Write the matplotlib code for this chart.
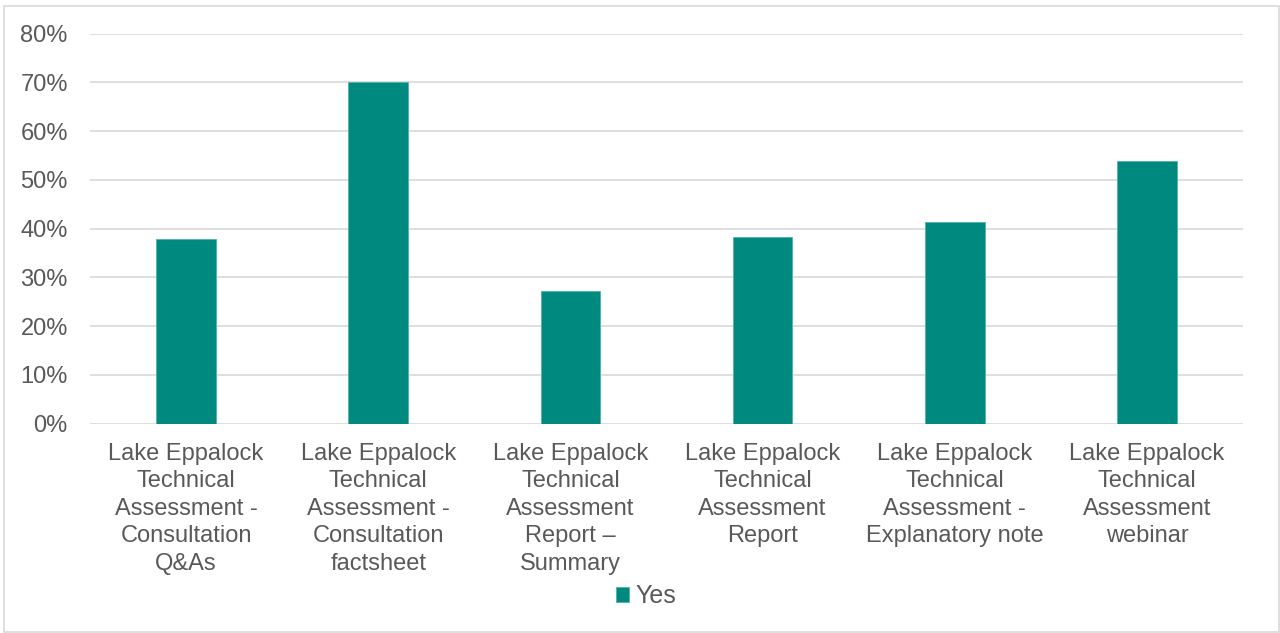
import matplotlib
matplotlib.use("Agg")
import matplotlib.pyplot as plt
from matplotlib.patches import Rectangle
from matplotlib.ticker import PercentFormatter

categories = [
    "Lake Eppalock\nTechnical\nAssessment -\nConsultation\nQ&As",
    "Lake Eppalock\nTechnical\nAssessment -\nConsultation\nfactsheet",
    "Lake Eppalock\nTechnical\nAssessment\nReport –\nSummary",
    "Lake Eppalock\nTechnical\nAssessment\nReport",
    "Lake Eppalock\nTechnical\nAssessment -\nExplanatory note",
    "Lake Eppalock\nTechnical\nAssessment\nwebinar",
]
yes_values = [37.9, 70.1, 27.2, 38.3, 41.3, 53.8]
series_name = "Yes"

plt.rcParams['font.family'] = ['Liberation Sans', 'DejaVu Sans']
text_color = "#595959"
bar_color = "#00897F"

fig = plt.figure(figsize=(12.8, 6.33), dpi=100)
W, H = 1280, 633
ax = fig.add_axes([90 / W, 1 - 423.5 / H, (1243 - 90) / W, (423.5 - 33.7) / H])

x = range(len(categories))
ax.bar(x, yes_values, width=0.31, color=bar_color, edgecolor="#4FB3AB", linewidth=0.6,
       label=series_name, zorder=3)
ax.set_xlim(-0.5, len(categories) - 0.5)
ax.set_ylim(0, 80)
ax.set_yticks(range(0, 81, 10))
ax.yaxis.set_major_formatter(PercentFormatter(decimals=0))
ax.grid(axis="y", color="#D9D9D9", linewidth=1.2, zorder=0)
for s in ax.spines.values():
    s.set_visible(False)
ax.tick_params(axis="both", length=0, labelsize=17, labelcolor=text_color)
ax.tick_params(axis="y", pad=16)
ax.set_xticks(list(x))
ax.set_xticklabels(categories, linespacing=1.32)
ax.tick_params(axis="x", pad=14)

leg = fig.legend(loc="center", bbox_to_anchor=(0.5 + 6 / W, 1 - 596 / H), frameon=False,
                 fontsize=18, handlelength=0.55, handleheight=0.55, handletextpad=0.25,
                 labelcolor=text_color)

fig.add_artist(Rectangle((4 / W, 1 / H), (1279 - 4) / W, (627 - 1) / H,
                         transform=fig.transFigure, fill=False,
                         edgecolor="#D9D9D9", linewidth=1.2))

fig.savefig("out.png", dpi=100)
